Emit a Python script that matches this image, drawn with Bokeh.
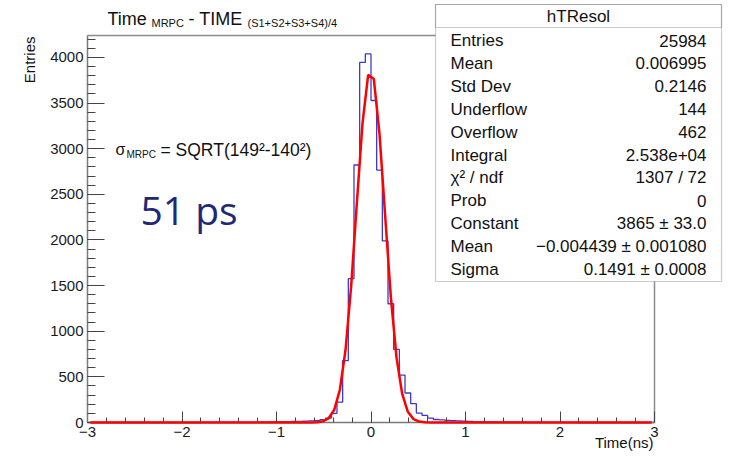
import numpy as np
from bokeh.plotting import figure
from bokeh.models import Label, BoxAnnotation, Range1d, SingleIntervalTicker
from bokeh.embed import file_html
from bokeh.resources import INLINE

# ---------------- data ----------------
BIN_LOW = -3.0
BIN_WIDTH = 0.06
# 100 bins from -3 to 3 (entries per bin)
counts = [
    0, 0, 0, 0, 0, 0, 0, 0, 0, 0,
    0, 0, 0, 0, 0, 0, 0, 0, 0, 0,
    1, 1, 1, 1, 1, 1, 1, 1, 1, 2,
    4, 5, 6, 8, 9, 10, 12, 13, 15, 17,
    20, 30, 48, 100, 224, 678, 1576, 2821, 3945, 4038,
    3528, 2766, 1989, 1301, 801, 518, 323, 206, 103, 77,
    48, 33, 29, 24, 21, 18, 15, 11, 9, 8,
    7, 6, 5, 4, 4, 3, 3, 2, 2, 1,
    1, 1, 1, 1, 1, 1, 0, 0, 0, 0,
    0, 0, 0, 0, 0, 0, 0, 0, 0, 0,
]
# Gaussian fit parameters (stats box)
fit_constant = 3865.0
fit_mean = -0.004439
fit_sigma = 0.1491

X_MIN, X_MAX = -3.0, 3.0
Y_MIN, Y_MAX = 0.0, 4240.0
x_tick_step = 1
y_tick_step = 500

stats_title = "hTResol"
stats_names = ["Entries", "Mean", "Std Dev", "Underflow", "Overflow", "Integral",
               "\u03c7\u00b2 / ndf", "Prob", "Constant", "Mean", "Sigma"]
stats_values = ["25984", "0.006995", "0.2146", "144", "462", "2.538e+04",
                "1307 / 72", "0", "3865 \u00b1 33.0",
                "\u22120.004439 \u00b1 0.001080", "0.1491 \u00b1 0.0008"]

# ---------------- layout (canvas pixels) ----------------
W, H = 728, 458
FR_L, FR_R, FR_T, FR_B = 87, 654, 35, 422   # where the ROOT frame sits on the canvas

# extend the ranges so that the data box lands on the ROOT frame while the
# Bokeh frame covers the whole canvas (axes are pinned with fixed_location)
xs = (X_MAX - X_MIN) / (FR_R - FR_L)
ys = (Y_MAX - Y_MIN) / (FR_B - FR_T)
xr = Range1d(X_MIN - FR_L * xs, X_MAX + (W - FR_R) * xs)
yr = Range1d(Y_MIN - (H - FR_B) * ys, Y_MAX + FR_T * ys)

FONT = "Liberation Sans"
p = figure(width=W, height=H, x_range=xr, y_range=yr,
           output_backend="svg", toolbar_location=None,
           min_border_left=0, min_border_right=0, min_border_top=0, min_border_bottom=0)
p.min_border = 0
p.xgrid.visible = False
p.ygrid.visible = False
p.background_fill_color = "white"
p.border_fill_color = "white"
p.outline_line_color = None

for ax in (p.xaxis, p.yaxis):
    ax.axis_line_color = "#7a7a7a"
    ax.axis_line_width = 1.5
    ax.major_tick_line_color = "#444444"
    ax.minor_tick_line_color = "#444444"
    ax.major_tick_out = 0
    ax.minor_tick_out = 0
    ax.major_label_text_font = FONT
    ax.major_label_text_font_size = "15px"
    ax.major_label_text_color = "#1a1a1a"

p.xaxis.fixed_location = Y_MIN
p.yaxis.fixed_location = X_MIN
p.xaxis.bounds = (X_MIN, X_MAX)
p.yaxis.bounds = (Y_MIN, Y_MAX)
p.xaxis.ticker = SingleIntervalTicker(interval=x_tick_step, num_minor_ticks=5)
p.yaxis.ticker = SingleIntervalTicker(interval=y_tick_step, num_minor_ticks=5)
p.xaxis.major_tick_in = 11
p.xaxis.minor_tick_in = 5
p.yaxis.major_tick_in = 17
p.yaxis.minor_tick_in = 8
p.xaxis.major_label_standoff = 4
p.yaxis.major_label_standoff = 4
p.xaxis.major_label_overrides = {-3: "\u22123", -2: "\u22122", -1: "\u22121"}

# ROOT frame: top and right edges
p.segment(x0=[X_MIN, X_MAX], y0=[Y_MAX, Y_MIN], x1=[X_MAX, X_MAX], y1=[Y_MAX, Y_MAX],
          line_color="#8a8a8a", line_width=1.5)

# histogram (step outline)
edges = BIN_LOW + BIN_WIDTH * np.arange(len(counts) + 1)
hist_y = list(counts) + [counts[-1]]
p.step(edges, hist_y, mode="after", line_color="#3b3bd0", line_width=1.3)

# fitted Gaussian evaluated at bin centres
centers = BIN_LOW + BIN_WIDTH * (np.arange(len(counts)) + 0.5)
fit_y = fit_constant * np.exp(-0.5 * ((centers - fit_mean) / fit_sigma) ** 2)
p.line(centers, fit_y, line_color="#ff0000", line_width=2.5, level="overlay")


# ---------------- texts (screen units, origin bottom-left of canvas) ----------------
def lab(text, px, py, size, align="left", baseline="alphabetic", color="#111111",
        font=FONT, angle=0):
    p.add_layout(Label(x=px, y=H - py, x_units="screen", y_units="screen",
                       text=text, text_font=font, text_font_size=size,
                       text_align=align, text_baseline=baseline, text_color=color,
                       angle=angle))


# title
lab("Time", 107, 18, "18px")
lab("MRPC", 151, 22, "11px")
lab("- TIME", 188, 18, "18px")
lab("(S1+S2+S3+S4)/4", 247, 22, "11px")

# axis titles
lab("Entries", 29, 36, "15px", align="right", baseline="middle", angle=np.pi / 2)
lab("Time(ns)", 653, 442, "15px", align="right", baseline="middle")

# sigma annotation
lab("\u03c3", 115, 149, "16px")
lab("MRPC", 126, 154, "10px")
lab("= SQRT(149\u00b2-140\u00b2)", 160, 149, "17.5px")

lab("51 ps", 140, 209, "39px", color="#1f2878", font="Open Sans")

# stats box
BL, BR, BT, BB, HB = 435, 721, 4, 281, 27
p.add_layout(BoxAnnotation(left=BL, right=BR, top=H - BT, bottom=H - BB,
                           left_units="screen", right_units="screen",
                           top_units="screen", bottom_units="screen",
                           fill_color="white", fill_alpha=1.0,
                           line_color="#555555", line_width=1.2))
p.add_layout(BoxAnnotation(left=BL, right=BR, top=H - BT, bottom=H - HB,
                           left_units="screen", right_units="screen",
                           top_units="screen", bottom_units="screen",
                           fill_alpha=0.0,
                           line_color="#555555", line_width=1.2))
lab(stats_title, (BL + BR) / 2, 16, "17px", align="center", baseline="middle")
for i, (n, v) in enumerate(zip(stats_names, stats_values)):
    yc = 40 + 22.9 * i
    lab(n, 450, yc, "17px", baseline="middle")
    lab(v, 706, yc, "17px", align="right", baseline="middle")

open("out.html", "w").write(file_html(p, INLINE))
